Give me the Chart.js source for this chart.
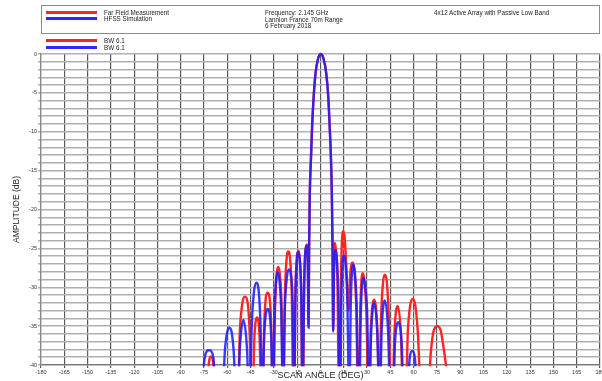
<!DOCTYPE html>
<html>
<head>
<meta charset="utf-8">
<script src="https://cdn.jsdelivr.net/npm/chart.js@4.4.1/dist/chart.umd.min.js"></script>
<style>
  html, body { margin: 0; padding: 0; background: #fff; }
  #wrap { position: relative; width: 602px; height: 381px; overflow: hidden; font-family: "Liberation Sans", Arial, sans-serif; }
  canvas { position: absolute; left: 0; top: 0; }
  .t { position: absolute; font-size: 6.3px; line-height: 7px; color: #222; white-space: nowrap; }
  .ln { position: absolute; height: 3px; width: 51px; left: 46px; }
  #box { position: absolute; left: 41px; top: 5px; width: 557px; height: 27px; border: 1.5px solid #8c8c8c; }
</style>
</head>
<body>
<div id="wrap">
  <canvas id="c" width="602" height="381"></canvas>
  <div id="box"></div>
  <div class="ln" style="top:11px;background:#ff2424"></div>
  <div class="ln" style="top:17px;background:#2a2aff"></div>
  <div class="t" style="left:104px;top:9px">Far Field Measurement</div>
  <div class="t" style="left:104px;top:15px">HFSS Simulation</div>
  <div class="t" style="left:265px;top:9px">Frequency: 2.145 GHz</div>
  <div class="t" style="left:265px;top:15.5px">Lannion France 70m Range</div>
  <div class="t" style="left:265px;top:22px">6 February 2018</div>
  <div class="t" style="left:434px;top:9px">4x12 Active Array with Passive Low Band</div>
  <div class="ln" style="top:38.5px;background:#ff2424"></div>
  <div class="ln" style="top:46px;background:#2a2aff"></div>
  <div class="t" style="left:104px;top:36.5px">BW 6.1</div>
  <div class="t" style="left:104px;top:44px">BW 6.1</div>
</div>
<script>
// ---- data ----
const seriesNames = ["Far Field Measurement", "HFSS Simulation"];

const measAngles = [
  -73, -71.8, -70.5, -69.2, -68,
  -53, -52, -50.3, -48.6, -46.9, -45.6, -44.8,
  -43.6, -42.6, -40.8, -39.2, -38.3,
  -37.2, -36.2, -34, -31.8, -30.8,
  -30.2, -29.3, -28.2, -27.2, -26.2, -25, -24.3,
  -23.8, -22.9, -21.8, -20.7, -19.6, -18.5, -17.6,
  -17, -16.2, -15.2, -14.3, -13.4, -12.4, -11.7,
  -11.3, -10.5, -9.7, -8.8, -8.1, -7.7,
  -7.3, -6.9, -6.1, -5.4, -4.4, -3.2, -1.7, 0.2, 2.1, 3.7, 5.0, 5.9, 6.7, 7.3, 7.7, 8.2,
  8.6, 9.0, 9.3, 9.9, 10.9, 11.8,
  12.3, 13.1, 13.9, 14.7, 15.6, 16.8, 18.1,
  19.2, 20.7, 21.9, 23.1, 24,
  24.6, 25.6, 26.4, 27.2, 28.2, 29.5, 30.8,
  31.4, 32.4, 34.6, 36.6, 37.6,
  38, 39, 40.3, 41.5, 42.7, 44, 45,
  46.6, 47.6, 49.7, 51.8, 53,
  55, 56.3, 57.8, 59.4, 61, 62.6, 64.6,
  69.5, 71, 73, 75.2, 77.3, 79.8, 82.6
];
const measDb = [
  -43, -39.6, -38.9, -39.6, -43,
  -43, -36, -32, -31.2, -32, -36, -43,
  -43, -36.5, -33.9, -36.5, -43,
  -43, -34.5, -30.7, -34.5, -43,
  -43, -33, -28.3, -27.4, -28.3, -33, -43,
  -43, -31, -26.3, -25.4, -26.3, -31, -43,
  -43, -31, -26.2, -25.3, -26.2, -31, -43,
  -43, -30, -25.3, -24.5, -27, -35,
  -24, -18, -13.2, -9.3, -5.5, -2.5, -0.7, 0, -0.7, -2.5, -5.5, -9.3, -13.2, -18, -24, -35.5,
  -28, -24.8, -24.3, -25.2, -29, -43,
  -43, -30, -23.7, -22.8, -23.7, -28, -33,
  -28.3, -26.8, -28, -33, -43,
  -43, -33, -29, -28.2, -29, -33, -43,
  -43, -35.5, -31.6, -35.5, -43,
  -43, -34, -29.3, -28.4, -29.3, -34, -43,
  -43, -36, -32.4, -36, -43,
  -43, -35.5, -32.3, -31.5, -32.3, -35.5, -43,
  -43, -38.5, -35.5, -35, -35.5, -38.5, -43
];

const simAngles = [
  -76.5, -74.5, -71.8, -69, -67.5,
  -63, -61.5, -60, -58.7, -57.3, -56, -54.5,
  -53, -52, -49.7, -47.3, -46.3,
  -45.4, -44.3, -42.8, -41.3, -39.8, -38.6, -37.7,
  -37.3, -36.2, -34, -31.8, -30.8,
  -30.5, -29.6, -28.6, -27.6, -26.5, -25.3, -24.3,
  -24, -23, -21.5, -20.3, -19, -17.8, -17.2,
  -16.9, -16.1, -15.2, -14.3, -13.4, -12.4, -11.7,
  -11.4, -10.6, -9.8, -8.9, -8.2, -7.7,
  -7.3, -6.9, -6.1, -5.4, -4.4, -3.2, -1.7, 0.2, 2.1, 3.7, 5.0, 5.9, 6.7, 7.3, 7.7, 8.2,
  8.7, 9.3, 9.8, 10.6, 11.6, 12.4,
  12.7, 13.5, 14.3, 15.1, 16, 17.2, 18.4,
  18.7, 19.5, 20.3, 21.1, 22, 23.2, 24.3,
  25, 26, 26.8, 27.6, 28.6, 30, 31.2,
  31.6, 32.6, 34.6, 36.6, 37.8,
  38.4, 39.4, 41.5, 43.5, 44.8,
  46.9, 48, 50.1, 52.2, 53.4,
  56, 57.5, 59.1, 60.7, 62
];
const simDb = [
  -43, -39, -38.1, -39, -43,
  -43, -38, -35.7, -35.2, -35.7, -38, -43,
  -43, -38, -34.2, -38, -43,
  -43, -35, -30.5, -29.4, -30.5, -35, -43,
  -43, -36, -32.8, -36, -43,
  -43, -33, -29, -28.1, -29, -33, -43,
  -43, -33, -28.5, -27.7, -28.5, -33, -43,
  -43, -31, -26.4, -25.5, -26.4, -31, -43,
  -43, -30, -25.5, -24.7, -27, -35.2,
  -24, -18, -13.2, -9.3, -5.5, -2.5, -0.7, 0, -0.7, -2.5, -5.5, -9.3, -13.2, -18, -24, -35.7,
  -28, -25.6, -25.2, -26.5, -32, -43,
  -43, -31, -26.7, -25.9, -26.7, -31, -43,
  -43, -32, -27.9, -27.1, -27.9, -32, -43,
  -43, -33, -29.6, -28.8, -29.6, -33, -43,
  -43, -36, -32, -36, -43,
  -43, -35.5, -31.7, -35.5, -43,
  -43, -37, -34.5, -37, -43,
  -43, -39, -38.2, -39, -43
];

const xTickMin = -180, xTickMax = 180, xTickStep = 15;
const yTickMin = -40, yTickMax = 0, yTickStep = 1, yLabelEvery = 5;
const xTitle = "SCAN ANGLE (DEG)";
const yTitle = "AMPLITUDE (dB)";

// ---- build ----
const toPts = (xs, ys) => xs.map((x, i) => ({ x: x, y: ys[i] }));
const lineClip = { left: 1.2, right: 1.2, top: 3, bottom: 1.2 };

new Chart(document.getElementById('c'), {
  type: 'line',
  data: {
    datasets: [
      {
        label: seriesNames[0],
        data: toPts(measAngles, measDb),
        borderColor: '#ff2424',
        borderWidth: 2.4,
        pointRadius: 0,
        cubicInterpolationMode: 'monotone',
        clip: lineClip,
        order: 2
      },
      {
        label: seriesNames[1],
        data: toPts(simAngles, simDb),
        borderColor: 'rgba(30,30,255,0.88)',
        borderWidth: 2.4,
        pointRadius: 0,
        cubicInterpolationMode: 'monotone',
        clip: lineClip,
        order: 1
      }
    ]
  },
  options: {
    responsive: false,
    animation: false,
    devicePixelRatio: 1,
    layout: { padding: { top: 54, right: 2, left: 0, bottom: 0 } },
    plugins: { legend: { display: false }, tooltip: { enabled: false } },
    scales: {
      x: {
        type: 'linear',
        min: xTickMin, max: xTickMax,
        ticks: {
          stepSize: xTickStep, autoSkip: false, maxRotation: 0, minRotation: 0,
          padding: 1, color: '#333',
          font: { family: 'Liberation Sans', size: 5.5 },
          callback: v => String(v)
        },
        grid: { color: '#5a5a5a', lineWidth: 1.2, tickLength: 3 },
        border: { color: '#777', width: 1.2 },
        title: {
          display: true, text: xTitle, color: '#222',
          font: { family: 'Liberation Sans', size: 9 },
          padding: { top: 0, bottom: 0 }
        },
        afterFit: s => { s.height = 16; s.paddingLeft = 0; s.paddingRight = 0; }
      },
      y: {
        type: 'linear',
        min: yTickMin, max: yTickMax,
        ticks: {
          stepSize: yTickStep, autoSkip: false, padding: 1, color: '#333',
          font: { family: 'Liberation Sans', size: 5.5 },
          callback: v => (Math.round(v) % yLabelEvery === 0 ? String(Math.round(v)) : '')
        },
        grid: { color: '#b0b0b0', lineWidth: 1.5, tickLength: 3 },
        border: { color: '#888', width: 1.2 },
        title: {
          display: true, text: yTitle, color: '#222',
          font: { family: 'Liberation Sans', size: 8.5 },
          padding: { top: 12, bottom: 0 }
        },
        afterFit: s => { s.width = 41; s.paddingTop = 0; s.paddingBottom = 0; }
      }
    }
  }
});
</script>
</body>
</html>
